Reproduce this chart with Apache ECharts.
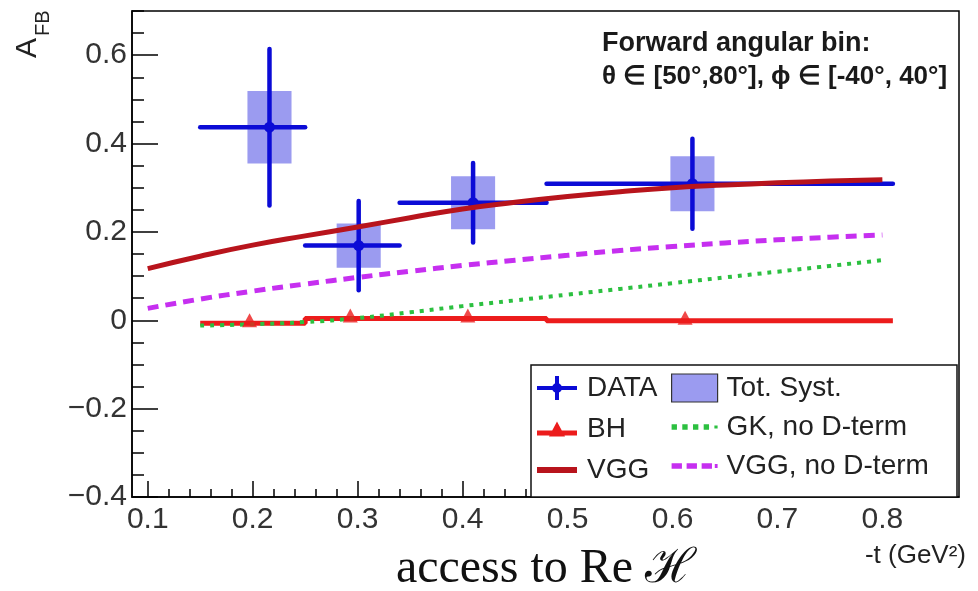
<!DOCTYPE html>
<html>
<head>
<meta charset="utf-8">
<script src="https://cdn.jsdelivr.net/npm/echarts@6/dist/echarts.min.js"></script>
<style>
  html, body { margin: 0; padding: 0; background: #fff; }
  #chart { width: 978px; height: 591px; }
</style>
</head>
<body>
<div id="chart"></div>
<script>
// Measured forward-backward asymmetry, one entry per -t bin
const tBinLow  = [0.15, 0.25, 0.34, 0.48];
const tBinHigh = [0.25, 0.34, 0.48, 0.81];
const tMean    = [0.216, 0.301, 0.410, 0.619];
const afbData  = [0.437, 0.169, 0.266, 0.309];
const afbStat  = [0.177, 0.101, 0.090, 0.102];
const afbSyst  = [0.082, 0.050, 0.060, 0.062];

// Bethe-Heitler expectation per bin
const bhT   = [0.197, 0.293, 0.405, 0.612];
const bhAfb = [-0.007, 0.004, 0.004, -0.001];

// Model curves
const vggT      = [0.10, 0.15, 0.20, 0.25, 0.30, 0.35, 0.40, 0.45, 0.50, 0.55, 0.60, 0.65, 0.70, 0.75, 0.80];
const vggAfb    = [0.117, 0.145, 0.170, 0.191, 0.211, 0.232, 0.252, 0.267, 0.280, 0.291, 0.300, 0.306, 0.311, 0.315, 0.318];
const vggNoDAfb = [0.027, 0.048, 0.066, 0.082, 0.097, 0.111, 0.124, 0.136, 0.147, 0.158, 0.167, 0.175, 0.182, 0.188, 0.193];
const gkT       = [0.15, 0.20, 0.25, 0.30, 0.35, 0.40, 0.45, 0.50, 0.55, 0.60, 0.65, 0.70, 0.75, 0.80];
const gkAfb     = [-0.012, -0.009, -0.004, 0.005, 0.018, 0.032, 0.045, 0.058, 0.071, 0.084, 0.097, 0.110, 0.123, 0.136];

// Axis ticks
const xTicks = [0.1, 0.2, 0.3, 0.4, 0.5, 0.6, 0.7, 0.8];
const yTicks = [-0.4, -0.2, 0, 0.2, 0.4, 0.6];

const FONT = '"Liberation Sans", Arial, Helvetica, sans-serif';
const SERIF = '"Liberation Serif", "DejaVu Serif", serif';
const BLUE = '#0b0bd6';
const SYST = '#9b9bf0';
const RED_BH = '#ec1c1c';
const RED_VGG = '#b8141c';
const GREEN = '#2cc040';
const MAGENTA = '#c62ff0';

const xMinor = [];
for (let k = 5; k <= 43; k++) { if (k % 5 !== 0) xMinor.push(+(k * 0.02).toFixed(2)); }
const yMinor = [];
for (let k = -8; k <= 14; k++) { if (k % 4 !== 0) yMinor.push(+(k * 0.05).toFixed(2)); }

const fmt = v => {
  if (Math.abs(v) < 1e-9) return '0';
  const s = Math.abs(v).toFixed(1);
  return v < 0 ? '\u2212' + s : s;
};

// Step-shaped BH histogram built from the per-bin values
const bhStep = [];
tBinLow.forEach((lo, i) => {
  bhStep.push([lo, bhAfb[i]]);
  bhStep.push([tBinHigh[i], bhAfb[i]]);
});

const pairs = (xs, ys) => xs.map((x, i) => [x, ys[i]]);

const axisLineStyle = { color: '#000', width: 1.5 };

const chart = echarts.init(document.getElementById('chart'), null, { renderer: 'canvas' });

chart.setOption({
  animation: false,
  backgroundColor: '#fff',
  grid: {
    left: 132, right: 19, top: 11, bottom: 94,
    show: true, borderColor: '#000', borderWidth: 1.5, backgroundColor: 'transparent'
  },
  xAxis: [
    {
      type: 'value', min: 0.085, max: 0.873, position: 'bottom',
      axisLine: { onZero: false, lineStyle: axisLineStyle },
      axisTick: { inside: true, length: 16, customValues: xTicks, lineStyle: axisLineStyle },
      axisLabel: { customValues: xTicks, formatter: fmt, fontFamily: FONT, fontSize: 30, color: '#333', margin: 8 },
      splitLine: { show: false }
    },
    {
      type: 'value', min: 0.085, max: 0.873, position: 'bottom', offset: 0,
      axisLine: { show: false, onZero: false },
      axisTick: { inside: true, length: 8, customValues: xMinor, lineStyle: axisLineStyle },
      axisLabel: { show: false },
      splitLine: { show: false }
    }
  ],
  yAxis: [
    {
      type: 'value', min: -0.4, max: 0.7, position: 'left',
      axisLine: { show: true, onZero: false, lineStyle: axisLineStyle },
      axisTick: { show: true, inside: true, length: 26, customValues: yTicks, lineStyle: axisLineStyle },
      axisLabel: { customValues: yTicks, formatter: fmt, fontFamily: FONT, fontSize: 30, color: '#333', margin: 5 },
      splitLine: { show: false }
    },
    {
      type: 'value', min: -0.4, max: 0.7, position: 'left', offset: 0,
      axisLine: { show: false, onZero: false },
      axisTick: { show: true, inside: true, length: 12, customValues: yMinor, lineStyle: axisLineStyle },
      axisLabel: { show: false },
      splitLine: { show: false }
    }
  ],
  legend: [
    {
      orient: 'vertical', left: 537, top: 373, padding: 0,
      itemWidth: 40, itemHeight: 24, itemGap: 11, z: 6,
      textStyle: { fontFamily: FONT, fontSize: 28, color: '#222', lineHeight: 30, padding: [0, 0, 0, 5] },
      data: [
        { name: 'DATA', icon: 'path://M0,10H40V14H0Z M18,0H22V24H18Z M15,12A5,5 0 1,1 25,12A5,5 0 1,1 15,12Z', itemStyle: { color: BLUE, borderWidth: 0 } },
        { name: 'BH', icon: 'path://M0,11H40V16H0Z M20,2L28,17H12Z', itemStyle: { color: RED_BH, borderWidth: 0 } },
        { name: 'VGG', icon: 'path://M0,10H40V16H0Z', itemStyle: { color: RED_VGG, borderWidth: 0 } }
      ]
    },
    {
      orient: 'vertical', left: 671, top: 373, padding: 0,
      itemWidth: 46, itemHeight: 28, itemGap: 9, z: 6,
      textStyle: { fontFamily: FONT, fontSize: 28, color: '#222', lineHeight: 30, padding: [0, 0, 0, 4] },
      data: [
        { name: 'Tot. Syst.', icon: 'rect', itemStyle: { color: SYST, borderColor: '#333', borderWidth: 1.2 } },
        { name: 'GK, no D-term', icon: 'path://M0,0h5v5h-5z M10,0h5v5h-5z M20,0h5v5h-5z M30,0h5v5h-5z M40,1h3v3h-3z', itemStyle: { color: GREEN, borderWidth: 0 } },
        { name: 'VGG, no D-term', icon: 'path://M0,0h11v6h-11z M16,0h11v6h-11z M32,0h11v6h-11z M46,1h3v4h-3z', itemStyle: { color: MAGENTA, borderWidth: 0 } }
      ]
    }
  ],
  graphic: [
    // legend frame
    { type: 'rect', z: 5, shape: { x: 531, y: 365, width: 426, height: 132 },
      style: { fill: '#fff', stroke: '#111', lineWidth: 1.5 } },
    // angular bin annotation
    { type: 'text', z: 5, x: 602, y: 44,
      style: { text: 'Forward angular bin:', font: 'bold 27px ' + FONT, fill: '#1a1a1a', verticalAlign: 'middle' } },
    { type: 'text', z: 5, x: 602, y: 77,
      style: { text: '\u03B8 \u2208 [50\u00B0,80\u00B0], \u03D5 \u2208 [-40\u00B0, 40\u00B0]', font: 'bold 26px ' + FONT, fill: '#1a1a1a', verticalAlign: 'middle' } },
    // y-axis title
    { type: 'text', z: 5, x: 43, y: 58, rotation: Math.PI / 2,
      style: { text: 'A', font: '30px ' + FONT, fill: '#222', align: 'left', verticalAlign: 'bottom' } },
    { type: 'text', z: 5, x: 53, y: 36, rotation: Math.PI / 2,
      style: { text: 'FB', font: '20px ' + FONT, fill: '#222', align: 'left', verticalAlign: 'bottom' } },
    // x-axis title
    { type: 'text', z: 5, x: 966, y: 556,
      style: { text: '-t (GeV\u00B2)', font: '26px ' + FONT, fill: '#222', align: 'right', verticalAlign: 'middle' } },
    // caption
    { type: 'text', z: 5, x: 546, y: 569,
      style: { text: 'access to Re \u210B', font: '48px ' + SERIF, fill: '#111', align: 'center', verticalAlign: 'middle' } }
  ],
  series: [
    {
      name: 'Tot. Syst.', type: 'custom', z: 2,
      xAxisIndex: 0, yAxisIndex: 0,
      itemStyle: { color: SYST },
      data: tMean.map((t, i) => [t, afbData[i], afbSyst[i]]),
      encode: { x: 0, y: 1 },
      renderItem: (params, api) => {
        const t = api.value(0), a = api.value(1), s = api.value(2);
        const hw = 0.021;
        const p1 = api.coord([t - hw, a + s]);
        const p2 = api.coord([t + hw, a - s]);
        return { type: 'rect', shape: { x: p1[0], y: p1[1], width: p2[0] - p1[0], height: p2[1] - p1[1] },
                 style: { fill: SYST } };
      }
    },
    {
      name: 'DATA', type: 'custom', z: 3,
      xAxisIndex: 0, yAxisIndex: 0,
      itemStyle: { color: BLUE },
      data: tMean.map((t, i) => [t, afbData[i], tBinLow[i], tBinHigh[i], afbStat[i]]),
      encode: { x: 0, y: 1 },
      renderItem: (params, api) => {
        const t = api.value(0), a = api.value(1), lo = api.value(2), hi = api.value(3), e = api.value(4);
        const pL = api.coord([lo, a]), pR = api.coord([hi, a]);
        const pT = api.coord([t, a + e]), pB = api.coord([t, a - e]);
        const pC = api.coord([t, a]);
        const st = { stroke: BLUE, lineWidth: 4.5, lineCap: 'round' };
        return { type: 'group', children: [
          { type: 'line', shape: { x1: pL[0], y1: pL[1], x2: pR[0], y2: pR[1] }, style: st },
          { type: 'line', shape: { x1: pT[0], y1: pT[1], x2: pB[0], y2: pB[1] }, style: st },
          { type: 'circle', shape: { cx: pC[0], cy: pC[1], r: 5.5 }, style: { fill: BLUE } }
        ] };
      }
    },
    {
      name: 'BH', type: 'line', z: 4,
      xAxisIndex: 0, yAxisIndex: 0,
      data: bhStep, showSymbol: false,
      color: RED_BH,
      lineStyle: { color: RED_BH, width: 5 }
    },
    {
      name: 'BH', type: 'scatter', z: 4,
      xAxisIndex: 0, yAxisIndex: 0,
      data: pairs(bhT, bhAfb), symbol: 'triangle', symbolSize: [15, 14], symbolOffset: [0, -3],
      itemStyle: { color: RED_BH }
    },
    {
      name: 'GK, no D-term', type: 'line', z: 4,
      xAxisIndex: 0, yAxisIndex: 0,
      data: pairs(gkT, gkAfb), showSymbol: false, smooth: true,
      color: GREEN,
      lineStyle: { color: GREEN, width: 4, type: [4, 6] }
    },
    {
      name: 'VGG, no D-term', type: 'line', z: 4,
      xAxisIndex: 0, yAxisIndex: 0,
      data: pairs(vggT, vggNoDAfb), showSymbol: false, smooth: true,
      color: MAGENTA,
      lineStyle: { color: MAGENTA, width: 5, type: [11, 7] }
    },
    {
      name: 'VGG', type: 'line', z: 4,
      xAxisIndex: 0, yAxisIndex: 0,
      data: pairs(vggT, vggAfb), showSymbol: false, smooth: true,
      color: RED_VGG,
      lineStyle: { color: RED_VGG, width: 5 }
    }
  ]
});
</script>
</body>
</html>
